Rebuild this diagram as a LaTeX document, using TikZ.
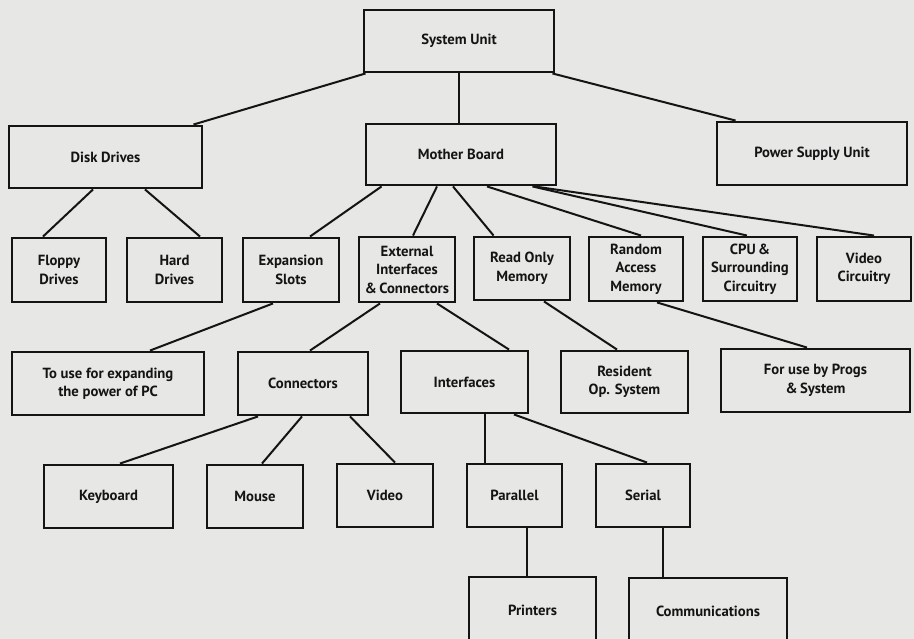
\documentclass[tikz,border=0pt]{standalone}
\usepackage{fontspec}
\setmainfont{PT Sans}
\definecolor{paper}{RGB}{231,231,229}
\definecolor{ink}{RGB}{20,20,20}
\begin{document}
\begin{tikzpicture}[x=1pt,y=-1pt,
  box/.style={draw=ink,line width=2.9pt,fill=paper,align=center,inner sep=0pt,
    font=\bfseries\fontsize{14.7}{18.5}\selectfont,text=ink},
  link/.style={draw=ink,line width=2pt}]
\useasboundingbox (0,0) rectangle (914,639);
\fill[paper] (0,0) rectangle (914,639);
\clip (0,0) rectangle (914,639);
% row 1
\node[box,minimum width=190pt,minimum height=62pt] (su) at (459,41) {System Unit};
% row 2
\node[box,minimum width=193pt,minimum height=62pt] (dd) at (105.5,157) {Disk Drives};
\node[box,minimum width=190pt,minimum height=61pt] (mb) at (461,154.5) {Mother Board};
\node[box,minimum width=190pt,minimum height=63pt] (psu) at (812,153.5) {Power Supply Unit};
% row 3
\node[box,minimum width=94pt,minimum height=64pt] (floppy) at (59,270) {Floppy\\Drives};
\node[box,minimum width=95pt,minimum height=64pt] (hard) at (174.5,270) {Hard\\Drives};
\node[box,minimum width=96pt,minimum height=64pt] (exp) at (291,270) {Expansion\\Slots};
\node[box,minimum width=96pt,minimum height=65pt] (ext) at (407,269.5) {External\\Interfaces\\\&\,Connectors};
\node[box,minimum width=96pt,minimum height=63pt] (rom) at (522,268.5) {Read Only\\Memory};
\node[box,minimum width=94pt,minimum height=64pt] (ram) at (636,269) {Random\\Access\\Memory};
\node[box,minimum width=94pt,minimum height=64pt] (cpu) at (750,269) {CPU\,\&\\Surrounding\\Circuitry};
\node[box,minimum width=94pt,minimum height=64pt] (vidc) at (864,269) {Video\\Circuitry};
% row 4
\node[box,minimum width=192pt,minimum height=63pt] (touse) at (108,383.5) {To use for expanding\\the power of PC};
\node[box,minimum width=130pt,minimum height=63pt] (conn) at (303,383.5) {Connectors};
\node[box,minimum width=127pt,minimum height=62pt] (intf) at (464.5,382) {Interfaces};
\node[box,minimum width=127pt,minimum height=62pt] (res) at (624.5,382) {Resident\\Op. System};
\node[box,minimum width=189pt,minimum height=63pt] (foruse) at (815.5,380.5) {For use by Progs\\\&\,System};
% row 5
\node[box,minimum width=129pt,minimum height=63pt] (kbd) at (108.5,496.5) {Keyboard};
\node[box,minimum width=96pt,minimum height=63pt] (mouse) at (255,496.5) {Mouse};
\node[box,minimum width=96pt,minimum height=63pt] (video) at (385,495.5) {Video};
\node[box,minimum width=95pt,minimum height=63pt] (par) at (514.5,495.5) {Parallel};
\node[box,minimum width=94pt,minimum height=63pt] (ser) at (643,495.5) {Serial};
% row 6
\node[box,minimum width=127pt,minimum height=66pt] (prn) at (532.5,610) {Printers};
\node[box,minimum width=158pt,minimum height=66pt] (comm) at (708,611) {Communications};
% vertical helpers
\coordinate (sub) at (su.south);
\coordinate (ipb) at ([xshift=20.5pt]intf.south);
\coordinate (ppb) at ([xshift=12.5pt]par.south);
\coordinate (spb) at ([xshift=20pt]ser.south);
% connectors
\draw[link] ([xshift=3pt]su.south west) -- ([xshift=-10pt]dd.north east);
\draw[link] (sub) -- (sub |- mb.north);
\draw[link] ([xshift=-3pt]su.south east) -- ([xshift=20pt]psu.north west);
\draw[link] ([xshift=-12.5pt]dd.south) -- ([xshift=-16pt]floppy.north);
\draw[link] ([xshift=39.5pt]dd.south) -- ([xshift=25.5pt]hard.north);
\draw[link] ([xshift=17pt]mb.south west) -- ([xshift=19pt]exp.north);
\draw[link] ([xshift=-24pt]mb.south) -- ([xshift=6pt]ext.north);
\draw[link] ([xshift=-8pt]mb.south) -- ([xshift=21pt]rom.north west);
\draw[link] ([xshift=26pt]mb.south) -- ([xshift=5pt]ram.north);
\draw[link] ([xshift=-25pt]mb.south east) -- ([xshift=-3pt]cpu.north);
\draw[link] ([xshift=-23pt]mb.south east) -- ([xshift=10pt]vidc.north);
\draw[link] ([xshift=-18pt]exp.south) -- ([xshift=42pt]touse.north);
\draw[link] ([xshift=-27pt]ext.south) -- ([xshift=7pt]conn.north);
\draw[link] ([xshift=30pt]ext.south) -- ([xshift=44.5pt]intf.north);
\draw[link] ([xshift=22pt]rom.south) -- ([xshift=-7.5pt]res.north);
\draw[link] ([xshift=21pt]ram.south) -- ([xshift=-8.5pt]foruse.north);
\draw[link] ([xshift=-45pt]conn.south) -- ([xshift=11.5pt]kbd.north);
\draw[link] ([xshift=-1pt]conn.south) -- ([xshift=7pt]mouse.north);
\draw[link] ([xshift=47pt]conn.south) -- ([xshift=10pt]video.north);
\draw[link] (ipb) -- (ipb |- par.north);
\draw[link] ([xshift=49.5pt]intf.south) -- ([xshift=4pt]ser.north);
\draw[link] (ppb) -- (ppb |- prn.north);
\draw[link] (spb) -- (spb |- comm.north);
\end{tikzpicture}
\end{document}
